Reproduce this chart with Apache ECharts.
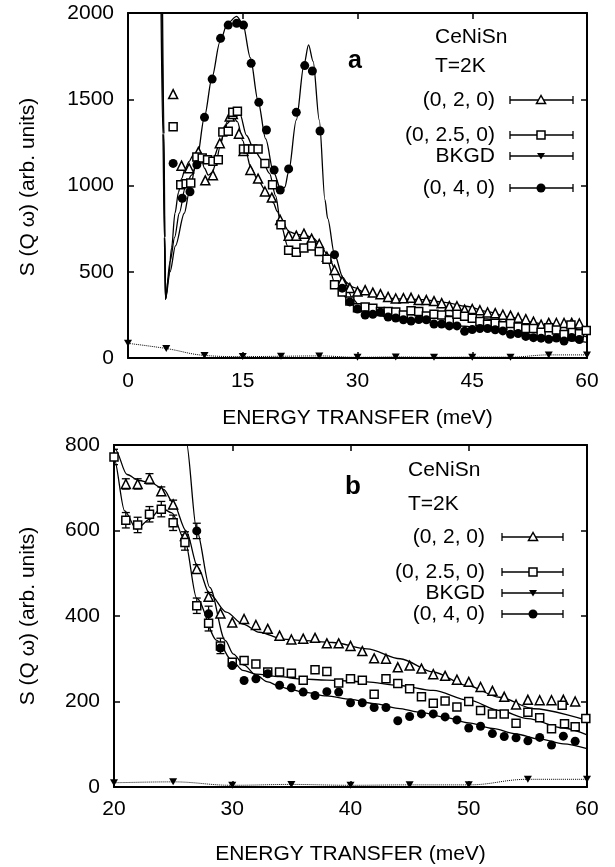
<!DOCTYPE html>
<html><head><meta charset="utf-8">
<script src="https://cdn.jsdelivr.net/npm/echarts@6/dist/echarts.min.js"></script>
<style>html,body{margin:0;padding:0;background:#fff}#c{width:615px;height:867px}</style>
</head><body><div id="c"></div>
<script>
// ---- data: (0,2,0) triangles ----
const triE = [5.9,7.0,8.0,9.2,10.1,11.1,12.0,12.7,13.3,13.7,14.5,15.1,16.0,17.0,17.9,18.8,19.9,
  21,22,23,24,25,26,27,28,29,30,31,32,33,34,35,36,37,38,39,40,41,42,43,44,45,46,47,48,49,50,51,52,53,54,55,56,57,58,59];
const triS = [1530,1115,1100,1195,1030,1060,1245,1320,1400,1415,1300,1200,1090,1040,965,930,800,
  709,709,721,692,661,587,510,445,406,385,393,379,370,354,345,347,349,336,336,330,318,301,300,280,284,277,264,260,251,246,234,225,211,193,204,203,203,204,200];
// ---- (0,2.5,0) squares ----
const sqE = [5.9,6.9,7.6,8.2,9.0,9.7,10.4,11.1,11.8,12.4,13.1,13.7,14.3,15.1,15.7,16.3,17.0,17.9,18.9,
  20,21,22,23,24,25,26,27,28,29,30,31,32,33,34,35,36,37,38,39,40,41,42,43,44,45,46,47,48,49,50,51,52,53,54,55,56,57,57.9,58.1,59,59.9];
const sqS = [1340,1005,1010,1015,1165,1160,1150,1140,1150,1310,1315,1425,1430,1212,1212,1212,1212,1128,1005,
  772,624,613,638,650,618,572,424,383,330,292,296,288,269,269,266,250,274,270,243,253,250,217,253,242,230,211,196,201,187,200,179,171,171,149,175,162,136,191,148,141,160];
// ---- (0,4,0) circles ----
const ciE = [5.9,7.1,8.1,9.0,10.0,11.0,12.1,13.1,14.2,15.1,16.1,17.1,18.1,19.1,19.9,21.0,22.0,23.1,24.1,25.1,
  27,28,29,30,31,32,33,34,35,36,37,38,39,40,41,42,43,44,45,46,47,48,49,50,51,52,53,54,55,56,57,58,59];
const ciS = [1128,926,964,1120,1395,1617,1853,1930,1940,1930,1708,1482,1322,1090,974,1096,1424,1695,1664,1316,
  599,405,325,284,249,253,265,238,232,222,214,223,222,197,197,186,186,155,165,171,171,164,157,138,142,125,118,115,108,116,98,119,107];
// ---- BKGD ----
const bgE = [0,5,10,15,20,25,30,35,40,45,50,55,60];
const bgS = [85,55,15,8,10,12,4,6,4,5,5,18,18];
// ---- fitted curves ----
const fitTriE = [4.3,4.55,4.75,4.9,5.3,5.7,6.14,6.6,7.0,7.5,8.0,8.5,9.0,9.5,10.0,10.5,11.0,11.5,12.0,12.5,13.0,13.7,14.3,15.0,15.5,16.0,17.0,18.0,19.0,19.5,20.1,21.1,22.1,23.2,24.2,25.0,26.1,27.1,28.1,29.5,30.9,32.3,34.3,35.7,38.5,41.4,44.2,47.0,49.8,52.6,55.5,60];
const fitTriS = [2100,1300,700,340,470,640,839,960,1040,1100,1140,1175,1195,1170,1100,1060,1075,1130,1220,1300,1360,1400,1370,1260,1180,1110,1030,970,900,850,790,731,717,711,696,665,599,513,451,409,381,362,346,343,338,323,300,269,238,210,183,156];
const fitSqE = [4.4,4.65,4.8,4.9,5.5,6.1,6.7,7.5,8.3,9.0,10.0,11.0,12.0,13.0,14.0,14.6,15.5,16.5,17.5,18.5,19.3,20.0,20.9,21.9,23.0,24.0,24.9,26.0,27.0,28.7,30.0,30.9,32.0,34.0,35.7,38.0,41.4,44.0,47.0,50.0,52.6,55.0,58.0,60.0];
const fitSqS = [2100,1300,700,340,560,700,839,990,1060,1120,1135,1140,1240,1370,1430,1420,1290,1205,1150,1070,940,770,646,603,626,653,641,576,441,343,295,273,264,258,253,250,246,238,226,203,179,160,138,122];
const fitCiE = [4.5,4.7,4.83,4.9,5.5,6.2,7.36,8.0,9.0,10.0,11.0,12.0,13.0,14.2,15.0,16.0,17.0,18.0,19.0,20.0,20.5,21.0,22.0,23.0,23.6,24.2,25.0,25.75,26.1,27.0,28.1,29.4,30.1,31,32,33,34,35,36,38,40,42,44,46,48,50,52,54,56,58,60];
const fitCiS = [2100,1300,700,340,500,650,839,960,1150,1400,1630,1830,1940,1980,1940,1740,1490,1270,1080,975,990,1080,1380,1700,1815,1720,1380,916,809,600,467,343,311,285,262,246,235,228,222,213,205,195,184,174,163,150,137,124,112,101,90];
// ---- error bars (panel b) ----
const errTriE = [21,22,23,24,25,26,27,28];
const errTri  = [12,12,12,10,10,10,10,10];
const errSqE  = [20,21,22,23,24,25,26,27,28,29];
const errSq   = [18,18,18,18,18,18,18,18,18,18];
const errCiE  = [27,28];
const errCi   = [18,18];
// ---- text ----
const legendLabels = ['(0, 2, 0)','(0, 2.5, 0)','BKGD','(0, 4, 0)'];
const xTitle = 'ENERGY TRANSFER (meV)';
const yTitle = 'S (Q \u03c9) (arb. units)';

const FONT = 'Liberation Sans, Arial, Helvetica, sans-serif';
const zip = (a,b) => a.map((v,i)=>[v,b[i]]);
const lookup = (E, arrE, arrS) => arrS[arrE.indexOf(E)];
const downTri = 'path://M0,0 L10,0 L5,9 Z';

function errData(eE, eV, arrE, arrS){ return eE.map((E,i)=>[E, lookup(E,arrE,arrS), eV[i]]); }
function errRender(params, api){
  const E = api.value(0), S = api.value(1), d = api.value(2);
  const p1 = api.coord([E, S + d]), p2 = api.coord([E, S - d]);
  const w = 4, st = {stroke:'#000', lineWidth:1.3};
  return {type:'group', children:[
    {type:'line', shape:{x1:p1[0],y1:p1[1],x2:p2[0],y2:p2[1]}, style:st},
    {type:'line', shape:{x1:p1[0]-w,y1:p1[1],x2:p1[0]+w,y2:p1[1]}, style:st},
    {type:'line', shape:{x1:p2[0]-w,y1:p2[1],x2:p2[0]+w,y2:p2[1]}, style:st}
  ]};
}

function panelSeries(xi, yi, withErr){
  const base = {xAxisIndex:xi, yAxisIndex:yi};
  const fit = (E,S)=>Object.assign({type:'line', data:zip(E,S), showSymbol:false, smooth:0.3, smoothMonotone:'x',
      lineStyle:{color:'#000', width:1.3}, z:2, clip:true}, base);
  const open = {color:'#fff', borderColor:'#000', borderWidth:1.5, opacity:1};
  const s = [
    fit(fitTriE, fitTriS), fit(fitSqE, fitSqS), fit(fitCiE, fitCiS),
    Object.assign({type:'line', data:zip(bgE,bgS), showSymbol:false, smooth:0.4, lineStyle:{color:'#000', width:1, type:'dotted'}, z:2, clip:true}, base),
    Object.assign({type:'scatter', data:zip(triE,triS), symbol:'triangle', symbolSize:9, itemStyle:open, z:5, clip:true}, base),
    Object.assign({type:'scatter', data:zip(sqE,sqS), symbol:'rect', symbolSize:8, itemStyle:open, z:5, clip:true}, base),
    Object.assign({type:'scatter', data:zip(ciE,ciS), symbol:'circle', symbolSize:9, itemStyle:{color:'#000', opacity:1}, z:6, clip:true}, base),
    Object.assign({type:'scatter', data:zip(bgE,bgS), symbol:downTri, symbolSize:[8,7], itemStyle:{color:'#000', opacity:1}, z:6, clip:true}, base)
  ];
  if (withErr){
    [errData(errTriE,errTri,triE,triS), errData(errSqE,errSq,sqE,sqS), errData(errCiE,errCi,ciE,ciS)].forEach(d=>{
      s.push(Object.assign({type:'custom', renderItem:errRender, data:d, z:4, clip:true}, base));
    });
  }
  return s;
}

const lab = (m)=>({show:true, margin:m, fontSize:21, color:'#000', fontFamily:FONT, formatter:(v)=>String(v)});
const axisCommon = (extra)=>Object.assign({
  type:'value', splitLine:{show:false},
  axisLine:{show:true, onZero:false, lineStyle:{color:'#000', width:2}},
  axisTick:{show:true, inside:true, length:6, lineStyle:{color:'#000', width:1.5}},
  axisLabel:lab(12)
}, extra);
const hidden = {axisLabel:{show:false}};

function legendBlock(rows, textRight, x1, x2, xm){
  const els = [];
  const syms = ['tri','sq','bg','ci'];
  rows.forEach((y,i)=>{
    els.push({type:'text', style:{text:legendLabels[i], x:textRight, y:y, font:'21px '+FONT, fill:'#000', textAlign:'right', textVerticalAlign:'middle'}});
    const st = {stroke:'#000', lineWidth:1.3};
    els.push({type:'line', shape:{x1:x1,y1:y,x2:x2,y2:y}, style:st});
    els.push({type:'line', shape:{x1:x1,y1:y-4,x2:x1,y2:y+4}, style:st});
    els.push({type:'line', shape:{x1:x2,y1:y-4,x2:x2,y2:y+4}, style:st});
    const k = syms[i];
    if (k==='tri') els.push({type:'polygon', shape:{points:[[xm,y-4.5],[xm-4.5,y+3.5],[xm+4.5,y+3.5]]}, style:{fill:'#fff', stroke:'#000', lineWidth:1.5}, z:10});
    if (k==='sq') els.push({type:'rect', shape:{x:xm-4,y:y-4,width:8,height:8}, style:{fill:'#fff', stroke:'#000', lineWidth:1.5}, z:10});
    if (k==='bg') els.push({type:'polygon', shape:{points:[[xm-4,y-3],[xm+4,y-3],[xm,y+3.5]]}, style:{fill:'#000'}, z:10});
    if (k==='ci') els.push({type:'circle', shape:{cx:xm,cy:y,r:4.5}, style:{fill:'#000'}, z:10});
  });
  return els;
}

const graphics = [
  {type:'text', x:28, y:187, rotation:Math.PI/2, style:{text:yTitle, x:0, y:0, font:'21px '+FONT, fill:'#000', textAlign:'center', textVerticalAlign:'middle'}},
  {type:'text', x:28, y:616, rotation:Math.PI/2, style:{text:yTitle, x:0, y:0, font:'21px '+FONT, fill:'#000', textAlign:'center', textVerticalAlign:'middle'}},
  {type:'text', style:{text:'CeNiSn', x:435, y:37, font:'21px '+FONT, fill:'#000', textVerticalAlign:'middle'}},
  {type:'text', style:{text:'T=2K', x:435, y:66, font:'21px '+FONT, fill:'#000', textVerticalAlign:'middle'}},
  {type:'text', style:{text:'a', x:355, y:61, font:'bold 25px '+FONT, fill:'#000', textAlign:'center', textVerticalAlign:'middle'}},
  {type:'text', style:{text:'CeNiSn', x:408, y:470, font:'21px '+FONT, fill:'#000', textVerticalAlign:'middle'}},
  {type:'text', style:{text:'T=2K', x:408, y:504, font:'21px '+FONT, fill:'#000', textVerticalAlign:'middle'}},
  {type:'text', style:{text:'b', x:353, y:487, font:'bold 26px '+FONT, fill:'#000', textAlign:'center', textVerticalAlign:'middle'}}
].concat(legendBlock([100,135,156,188], 495, 510, 573, 541))
 .concat(legendBlock([537,572,593,614], 485, 502, 563, 533));

const option = {
  animation:false, backgroundColor:'#fff',
  grid:[{left:128, top:13, width:459, height:345}, {left:114, top:445, width:473, height:342}],
  xAxis:[
    axisCommon({gridIndex:0, min:0, max:60, interval:15, position:'bottom', axisLabel:lab(13),
      name:xTitle, nameLocation:'middle', nameGap:50, nameTextStyle:{fontSize:21, color:'#000', fontFamily:FONT}}),
    axisCommon(Object.assign({gridIndex:0, min:0, max:60, interval:15, position:'top'}, hidden)),
    axisCommon({gridIndex:1, min:20, max:60, interval:10, position:'bottom', axisLabel:lab(12),
      name:xTitle, nameLocation:'middle', nameGap:57, nameTextStyle:{fontSize:21, color:'#000', fontFamily:FONT}}),
    axisCommon(Object.assign({gridIndex:1, min:20, max:60, interval:10, position:'top'}, hidden))
  ],
  yAxis:[
    axisCommon({gridIndex:0, min:0, max:2000, interval:500, position:'left', axisLabel:lab(14)}),
    axisCommon(Object.assign({gridIndex:0, min:0, max:2000, interval:500, position:'right'}, hidden)),
    axisCommon({gridIndex:1, min:0, max:800, interval:200, position:'left', axisLabel:lab(14)}),
    axisCommon(Object.assign({gridIndex:1, min:0, max:800, interval:200, position:'right'}, hidden))
  ],
  series: panelSeries(0,0,false).concat(panelSeries(2,2,true)),
  graphic: graphics
};
const chart = echarts.init(document.getElementById('c'), null, {renderer:'canvas'});
chart.setOption(option);
</script>
</body></html>
